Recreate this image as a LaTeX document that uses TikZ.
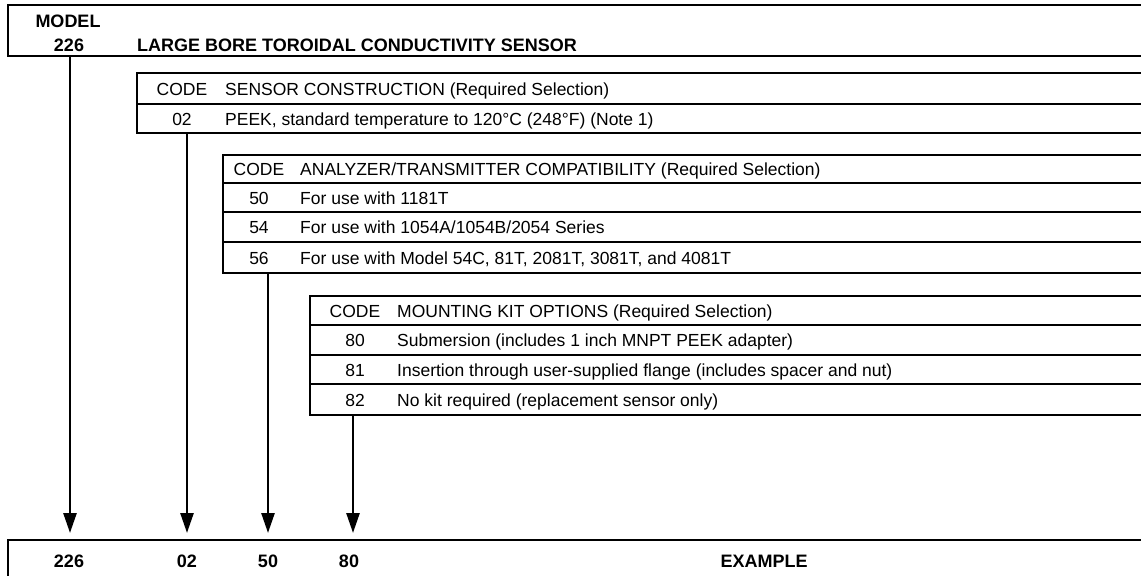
\documentclass[tikz,border=0pt]{standalone}
\usepackage{fontspec}
\setmainfont{Liberation Sans}
\usetikzlibrary{arrows.meta}

\begin{document}
\begin{tikzpicture}[x=1pt,y=-1pt,
    frame/.style={line width=2.6pt},
    rule/.style={line width=1.5pt},
    txt/.style={inner sep=0pt,font=\fontsize{17.5}{20}\selectfont},
    hd/.style={inner sep=0pt,font=\fontsize{18}{20}\selectfont\bfseries},
    pick/.style={line width=2.6pt,-{Triangle[length=20pt,width=13pt]}}]
\useasboundingbox (0,0) rectangle (1141,576);

% model
\draw[frame] (1141,5) -- (8,5) -- (8,56) -- (1141,56);
\node[hd,anchor=base] (model) at (68,27) {MODEL};
\node[hd,anchor=base] (m226) at (69,51) {226};
\node[hd,anchor=base west] (title) at (137,51) {LARGE BORE TOROIDAL CONDUCTIVITY SENSOR};

% sensor construction
\draw[frame] (1141,73) -- (137,73) -- (137,133) -- (1141,133);
\draw[rule] (137,104) -- (1141,104);
\node[txt,anchor=base] (c1) at (182,95) {CODE};
\node[txt,anchor=base west] (h1) at (225,95) {SENSOR CONSTRUCTION (Required Selection)};
\node[txt,anchor=base] (k02) at (182,125) {02};
\node[txt,anchor=base west] (d02) at (225,125) {PEEK, standard temperature to 120°C (248°F) (Note 1)};

% analyzer
\draw[frame] (1141,155) -- (223,155) -- (223,273) -- (1141,273);
\draw[rule] (223,183) -- (1141,183);
\draw[rule] (223,212) -- (1141,212);
\draw[rule] (223,242) -- (1141,242);
\node[txt,anchor=base] (c2) at (259,175.5) {CODE};
\node[txt,anchor=base west] (h2) at (300,175.5) {ANALYZER/TRANSMITTER COMPATIBILITY (Required Selection)};
\node[txt,anchor=base] (k50) at (259,204) {50};
\node[txt,anchor=base west] (d50) at (300,204) {For use with 1181T};
\node[txt,anchor=base] (k54) at (259,233.5) {54};
\node[txt,anchor=base west] (d54) at (300,233.5) {For use with 1054A/1054B/2054 Series};
\node[txt,anchor=base] (k56) at (259,264) {56};
\node[txt,anchor=base west] (d56) at (300,264) {For use with Model 54C, 81T, 2081T, 3081T, and 4081T};

% mounting kit
\draw[frame] (1141,296) -- (310,296) -- (310,415) -- (1141,415);
\draw[rule] (310,325) -- (1141,325);
\draw[rule] (310,355) -- (1141,355);
\draw[rule] (310,384) -- (1141,384);
\node[txt,anchor=base] (c3) at (355,317) {CODE};
\node[txt,anchor=base west] (h3) at (397,317) {MOUNTING KIT OPTIONS (Required Selection)};
\node[txt,anchor=base] (k80) at (355,346.5) {80};
\node[txt,anchor=base west] (d80) at (397,346.5) {Submersion (includes 1 inch MNPT PEEK adapter)};
\node[txt,anchor=base] (k81) at (355,376) {81};
\node[txt,anchor=base west] (d81) at (397,376) {Insertion through user-supplied flange (includes spacer and nut)};
\node[txt,anchor=base] (k82) at (355,406) {82};
\node[txt,anchor=base west] (d82) at (397,406) {No kit required (replacement sensor only)};

% example
\draw[frame] (1141,540) -- (8,540) -- (8,576);
\node[hd,anchor=base] (x226) at (69,567) {226};
\node[hd,anchor=base] (x02) at (187,567) {02};
\node[hd,anchor=base] (x50) at (268,567) {50};
\node[hd,anchor=base] (x80) at (349,567) {80};
\node[hd,anchor=base] (ex) at (764,567) {EXAMPLE};

\coordinate (s226) at (70,56);
\coordinate (s02) at (187,133);
\coordinate (s50) at (268,273);
\coordinate (s80) at (353,415);
\coordinate (t226) at (70,533);
\coordinate (t02) at (187,533);
\coordinate (t50) at (268,533);
\coordinate (t80) at (353,533);
\draw[pick] (s226) -- (t226);
\draw[pick] (s02) -- (t02);
\draw[pick] (s50) -- (t50);
\draw[pick] (s80) -- (t80);
\end{tikzpicture}
\end{document}
